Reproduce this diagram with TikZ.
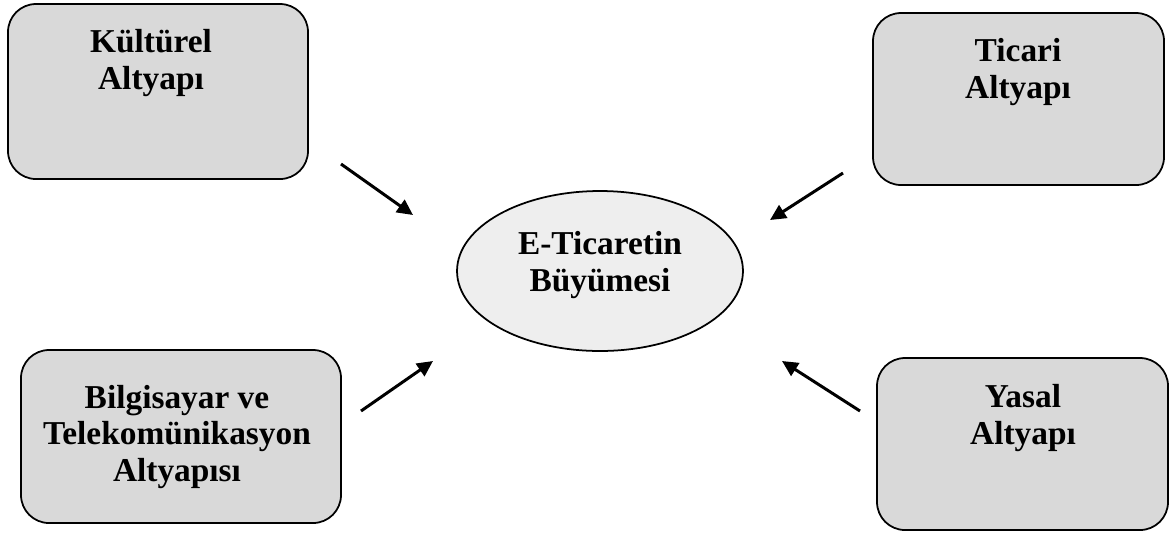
\documentclass[tikz,border=0pt]{standalone}
\usepackage{fontspec}
\setmainfont{Liberation Serif}
\usetikzlibrary{arrows.meta,shapes.geometric}
\definecolor{boxgray}{HTML}{D9D9D9}
\definecolor{ovalgray}{HTML}{EEEEEE}
\begin{document}
\begin{tikzpicture}[x=0.02cm,y=-0.02cm,
  infra/.style={draw=black,line width=1pt,fill=boxgray,rounded corners=0.56cm},
  growth/.style={draw=black,line width=1pt,fill=ovalgray,ellipse,inner sep=0pt,
    minimum width=5.72cm,minimum height=3.2cm},
  label/.style={font=\fontsize{19}{20.5}\selectfont\bfseries,align=center,anchor=base,inner sep=0pt},
  feed/.style={line width=1.7pt,-{Triangle[length=9pt,width=8.5pt]}}]
\useasboundingbox (0,0) rectangle (1173,532);

% four supporting infrastructures (label anchored at its last baseline)
\draw[infra] (8,4) rectangle (308,179);
\node[label] (kultur) at (151,89) {Kültürel\\Altyapı};

\draw[infra] (873,13) rectangle (1164,185);
\node[label] (ticari) at (1018,98) {Ticari\\Altyapı};

\draw[infra] (21,350) rectangle (341,523);
\node[label] (bilgi) at (177,481) {Bilgisayar ve\\Telekomünikasyon\\Altyapısı};

\draw[infra] (877,358) rectangle (1168,530);
\node[label] (yasal) at (1023,444) {Yasal\\Altyapı};

% central outcome
\node[growth] (buyume) at (600,271) {};
\node[label] (buyumetext) at (600,291) {E-Ticaretin\\Büyümesi};

% arrow ends
\coordinate (k1) at (341,164); \coordinate (k2) at (413,215);
\coordinate (t1) at (843,173); \coordinate (t2) at (770,220);
\coordinate (b1) at (361,411); \coordinate (b2) at (433,361);
\coordinate (y1) at (860,411); \coordinate (y2) at (782,361);

\draw[feed] (k1) -- (k2);
\draw[feed] (t1) -- (t2);
\draw[feed] (b1) -- (b2);
\draw[feed] (y1) -- (y2);
\end{tikzpicture}
\end{document}
